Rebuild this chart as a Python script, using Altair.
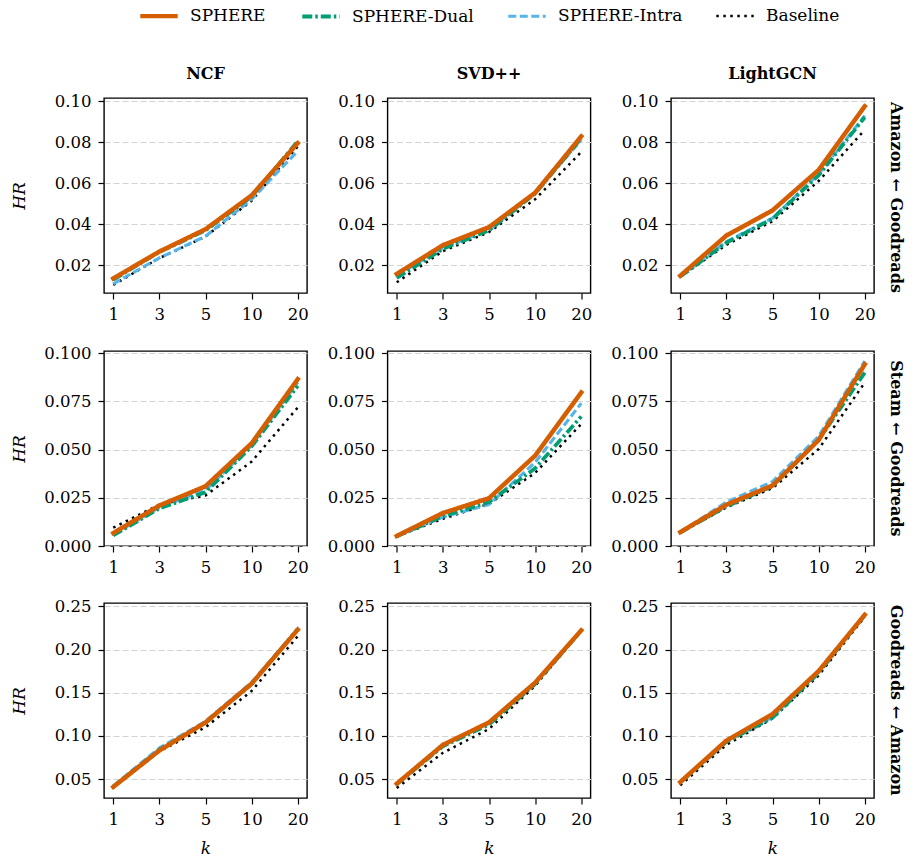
import altair as alt
import pandas as pd

K = ["1", "3", "5", "10", "20"]
SERIES = ["SPHERE", "SPHERE-Dual", "SPHERE-Intra", "Baseline"]
MODELS = ["NCF", "SVD++", "LightGCN"]
SCENARIOS = ["Amazon \u2190 Goodreads", "Steam \u2190 Goodreads", "Goodreads \u2190 Amazon"]

# Amazon <- Goodreads
AG_NCF = {
    "SPHERE": [0.0136, 0.0267, 0.0376, 0.0541, 0.0796],
    "SPHERE-Dual": [0.0130, 0.0265, 0.0370, 0.0535, 0.0805],
    "SPHERE-Intra": [0.0110, 0.0236, 0.0342, 0.0522, 0.0758],
    "Baseline": [0.0105, 0.0235, 0.0340, 0.0515, 0.0780],
}
AG_SVD = {
    "SPHERE": [0.0158, 0.0298, 0.0386, 0.0554, 0.0829],
    "SPHERE-Dual": [0.0138, 0.0280, 0.0370, 0.0550, 0.0820],
    "SPHERE-Intra": [0.0150, 0.0285, 0.0372, 0.0552, 0.0812],
    "Baseline": [0.0117, 0.0269, 0.0362, 0.0522, 0.0753],
}
AG_LGCN = {
    "SPHERE": [0.0149, 0.0345, 0.0468, 0.0665, 0.0976],
    "SPHERE-Dual": [0.0145, 0.0310, 0.0427, 0.0639, 0.0922],
    "SPHERE-Intra": [0.0145, 0.0315, 0.0430, 0.0645, 0.0930],
    "Baseline": [0.0145, 0.0300, 0.0415, 0.0611, 0.0861],
}
# Steam <- Goodreads
SG_NCF = {
    "SPHERE": [0.0067, 0.0210, 0.0310, 0.0533, 0.0866],
    "SPHERE-Dual": [0.0055, 0.0195, 0.0279, 0.0517, 0.0831],
    "SPHERE-Intra": [0.0060, 0.0200, 0.0290, 0.0522, 0.0850],
    "Baseline": [0.0095, 0.0215, 0.0262, 0.0438, 0.0719],
}
SG_SVD = {
    "SPHERE": [0.0052, 0.0171, 0.0248, 0.0469, 0.0797],
    "SPHERE-Dual": [0.0050, 0.0155, 0.0228, 0.0403, 0.0672],
    "SPHERE-Intra": [0.0050, 0.0150, 0.0216, 0.0434, 0.0741],
    "Baseline": [0.0050, 0.0141, 0.0219, 0.0379, 0.0633],
}
SG_LGCN = {
    "SPHERE": [0.0072, 0.0214, 0.0314, 0.0550, 0.0943],
    "SPHERE-Dual": [0.0070, 0.0205, 0.0310, 0.0550, 0.0900],
    "SPHERE-Intra": [0.0072, 0.0228, 0.0334, 0.0569, 0.0960],
    "Baseline": [0.0070, 0.0200, 0.0300, 0.0503, 0.0848],
}
# Goodreads <- Amazon
GA_NCF = {
    "SPHERE": [0.0408, 0.0830, 0.1156, 0.1606, 0.2231],
    "SPHERE-Dual": [0.0410, 0.0840, 0.1150, 0.1600, 0.2240],
    "SPHERE-Intra": [0.0420, 0.0860, 0.1170, 0.1620, 0.2240],
    "Baseline": [0.0400, 0.0820, 0.1100, 0.1520, 0.2155],
}
GA_SVD = {
    "SPHERE": [0.0446, 0.0895, 0.1156, 0.1617, 0.2224],
    "SPHERE-Dual": [0.0440, 0.0880, 0.1130, 0.1600, 0.2220],
    "SPHERE-Intra": [0.0440, 0.0890, 0.1150, 0.1610, 0.2220],
    "Baseline": [0.0396, 0.0803, 0.1080, 0.1580, 0.2220],
}
GA_LGCN = {
    "SPHERE": [0.0465, 0.0945, 0.1252, 0.1751, 0.2404],
    "SPHERE-Dual": [0.0460, 0.0930, 0.1210, 0.1730, 0.2400],
    "SPHERE-Intra": [0.0460, 0.0930, 0.1220, 0.1740, 0.2400],
    "Baseline": [0.0427, 0.0896, 0.1203, 0.1700, 0.2380],
}

PANELS = [[AG_NCF, AG_SVD, AG_LGCN], [SG_NCF, SG_SVD, SG_LGCN], [GA_NCF, GA_SVD, GA_LGCN]]
ROW_DOMAINS = [[0.0065, 0.1016], [0.0, 0.1012], [0.028, 0.254]]
ROW_TICKS = [[0.02, 0.04, 0.06, 0.08, 0.10], [0.0, 0.025, 0.05, 0.075, 0.10], [0.05, 0.10, 0.15, 0.20, 0.25]]
ROW_FORMATS = [".2f", ".3f", ".2f"]

COLORS = ["#D55E00", "#009E73", "#56B4E9", "#000000"]
DASHES = [[1, 0], [10, 3, 2.5, 3], [8, 3.5], [2.5, 4.5]]
WIDTHS = [4.4, 2.5, 2.5, 2.5]

FONT = "DejaVu Serif"
W, H = 203, 195
TICK_FS = 16.5

legend = alt.Legend(
    orient="none", legendX=34, legendY=-103, direction="horizontal", columns=4,
    symbolType="stroke", symbolSize=1400, labelFontSize=17, labelFont=FONT,
    labelColor="black", labelOffset=10, columnPadding=28, padding=0, labelLimit=300,
)
color_scale = alt.Scale(domain=SERIES, range=COLORS)
dash_scale = alt.Scale(domain=SERIES, range=DASHES)
width_scale = alt.Scale(domain=SERIES, range=WIDTHS)


def panel(vals, r, c):
    recs = [{"k": K[i], "hr": vals[s][i], "series": s} for s in SERIES for i in range(len(K))]
    df = pd.DataFrame(recs)
    xaxis = alt.Axis(labelAngle=0, grid=False, minExtent=29, maxExtent=29,
                     title="k" if r == 2 else None, titleFontStyle="italic",
                     titlePadding=13, labelPadding=7)
    yaxis = alt.Axis(values=ROW_TICKS[r], format=ROW_FORMATS[r], grid=True,
                     gridDash=[6, 3], gridColor="#d3d3d3", gridWidth=1,
                     minExtent=62, maxExtent=62, labelPadding=7,
                     title="HR" if c == 0 else None, titleFontStyle="italic",
                     titlePadding=14 if c == 0 else 0)
    layers = []
    for s in reversed(SERIES):
        layers.append(
            alt.Chart(df).transform_filter(alt.datum.series == s)
            .mark_line(strokeCap="square" if s == "SPHERE" else "butt", strokeJoin="round")
            .encode(
                x=alt.X("k:O", sort=K, scale=alt.Scale(type="point", padding=0.2), axis=xaxis),
                y=alt.Y("hr:Q", scale=alt.Scale(domain=ROW_DOMAINS[r], nice=False, zero=False), axis=yaxis),
                color=alt.Color("series:N", scale=color_scale, sort=SERIES, legend=legend, title=None),
                strokeDash=alt.StrokeDash("series:N", scale=dash_scale, sort=SERIES, legend=legend, title=None),
                strokeWidth=alt.StrokeWidth("series:N", scale=width_scale, sort=SERIES, legend=legend, title=None),
            )
        )
    ch = alt.layer(*layers).properties(width=W, height=H)
    if r == 0:
        ch = ch.properties(title=alt.TitleParams(MODELS[c], fontSize=16, fontWeight="bold",
                                                 font=FONT, offset=11, anchor="middle"))
    return ch


ROW_DX = [3, -12, -27]
rows = []
for r in range(3):
    row = alt.hconcat(*[panel(PANELS[r][c], r, c) for c in range(3)], spacing=15.5).properties(
        title=alt.TitleParams(SCENARIOS[r], orient="right", anchor="middle", angle=90,
                              fontSize=16, fontWeight="bold", font=FONT, offset=12,
                              dx=ROW_DX[r])
    )
    rows.append(row)

chart = alt.vconcat(*rows, spacing=20).properties(
    padding={"left": 9, "top": -5, "right": 3, "bottom": 0}
).configure_axis(
    labelFont=FONT, labelFontSize=TICK_FS, labelColor="black", tickColor="black",
    tickSize=6, tickWidth=1.2, domain=False, titleFont=FONT, titleFontSize=17,
    titleFontWeight="normal", titleColor="black",
).configure_view(stroke="black", strokeWidth=1.4).configure_title(font=FONT, color="black")

chart.save("out.html", embed_options={"renderer": "svg", "actions": False})
